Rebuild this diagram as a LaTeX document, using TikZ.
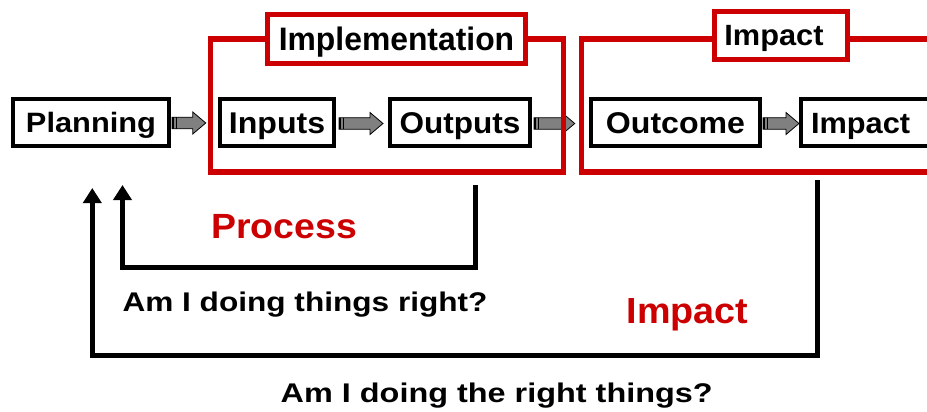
\documentclass[tikz,border=0pt]{standalone}
\usepackage{fontspec}
\setmainfont{Liberation Sans}
\usetikzlibrary{arrows.meta,calc}
\definecolor{pptred}{RGB}{204,0,0}
\definecolor{arrowgray}{RGB}{128,128,128}
\newcommand\tx[3]{\scalebox{#2}[1]{\fontsize{#1pt}{#1pt}\selectfont\bfseries #3}}
\pgfdeclarelayer{background}
\pgfsetlayers{background,main}
\begin{document}
\begin{tikzpicture}[x=1pt,y=-1pt,
  box/.style={draw=black, line width=4pt, fill=white, minimum height=47pt, inner sep=0pt, text height=21.5pt, text depth=0pt},
  container/.style={draw=pptred, line width=5.5pt, inner sep=0pt},
  labelbox/.style={draw=pptred, line width=5pt, fill=white, inner sep=0pt, text height=22pt, text depth=0pt},
  freetext/.style={anchor=base, inner sep=0pt},
  blockarrow/.style={fill=arrowgray, draw=black, line width=0.8pt, line join=miter,
    to path={let \p1=(\tikztostart), \p2=(\tikztotarget) in
      (\x1,\y1+5.8pt) -- (\x2-13pt,\y1+5.8pt) -- (\x2-13pt,\y1+11pt) -- (\x2,\y1)
      -- (\x2-13pt,\y1-11pt) -- (\x2-13pt,\y1-5.8pt) -- (\x1,\y1-5.8pt) -- cycle}},
  arrowtail/.style={draw=black, line width=1.6pt,
    to path={let \p1=(\tikztostart) in
      (\x1+1.2pt,\y1+5.8pt) -- (\x1+1.2pt,\y1-5.8pt)
      (\x1+4.4pt,\y1+5.8pt) -- (\x1+4.4pt,\y1-5.8pt)}},
  fb/.style={draw=black, line width=5pt, line join=miter, -{Triangle[length=15pt,width=18pt]}}
]
\path[use as bounding box, clip] (0,0) rectangle (927,412);

% red containers
\node[container, minimum width=353pt, minimum height=133pt] (implC) at (387,105.5) {};
\node[container, minimum width=363.5pt, minimum height=133pt] (impC) at (763.25,105.5) {};

% container labels
\node[labelbox, minimum width=258pt, minimum height=49pt, text height=23.3pt] (implL) at (396.5,39) {\tx{32.5}{0.98}{Implementation}};
\node[labelbox, minimum width=133pt, minimum height=48pt, text height=21pt] (impL) at (781,35.5) {\tx{29.3}{1.05}{Impact}\hspace*{14pt}};

% boxes
\node[box, minimum width=156pt, text height=20.5pt] (plan) at (91,122.5) {\tx{28}{1.10}{Planning}};
\node[box, minimum width=114pt] (inp) at (277,122.5) {\tx{30}{1.07}{Inputs}};
\node[box, minimum width=140pt] (outp) at (460,122.5) {\tx{30}{1.05}{Outputs}};
\node[box, minimum width=169pt] (outc) at (675.5,122.5) {\tx{30}{1.07}{Outcome}};
\node[box, anchor=west, align=left, text width=130pt, inner xsep=10pt, text height=21pt] (impB) at (799,122.5) {\tx{29.3}{1.05}{Impact}};

% block arrows (behind the red frames)
\begin{pgfonlayer}{background}
\draw[blockarrow] ([xshift=1pt,yshift=-0.5pt]plan.east) to ([xshift=-2pt]implC.west);
\draw[arrowtail]  ([xshift=1pt,yshift=-0.5pt]plan.east) to ([xshift=-2pt]implC.west);
\draw[blockarrow] ([xshift=3pt,yshift=-1pt]inp.east) to ([xshift=-5pt]outp.west);
\draw[arrowtail]  ([xshift=3pt,yshift=-1pt]inp.east) to ([xshift=-5pt]outp.west);
\draw[blockarrow] ([xshift=2pt,yshift=-1pt]outp.east) to ([xshift=-4pt]impC.west);
\draw[arrowtail]  ([xshift=2pt,yshift=-1pt]outp.east) to ([xshift=-4pt]impC.west);
\draw[blockarrow] ([xshift=1pt,yshift=-1pt]outc.east) to ([xshift=0pt]impB.west);
\draw[arrowtail]  ([xshift=1pt,yshift=-1pt]outc.east) to ([xshift=0pt]impB.west);
\end{pgfonlayer}

% feedback loops
\coordinate (pstart) at (475,185);
\coordinate (pend) at (122.5,185);
\draw[fb] (pstart) -- ++(0,82) -| (pend);
\coordinate (istart) at (817.5,180);
\coordinate (iend) at (92.3,188);
\draw[fb] (istart) -- ++(0,175) -| (iend);

% free texts
\node[freetext, text=pptred] (proc) at (284,238) {\tx{35}{1.07}{Process}};
\node[freetext, text=pptred] (impT) at (687.5,323) {\tx{36.3}{1.04}{Impact}};
\node[freetext] (q1) at (305,311.7) {\tx{27}{1.17}{Am I doing things right?}};
\node[freetext] (q2) at (496.7,402.7) {\tx{27}{1.20}{Am I doing the right things?}};
\end{tikzpicture}
\end{document}
